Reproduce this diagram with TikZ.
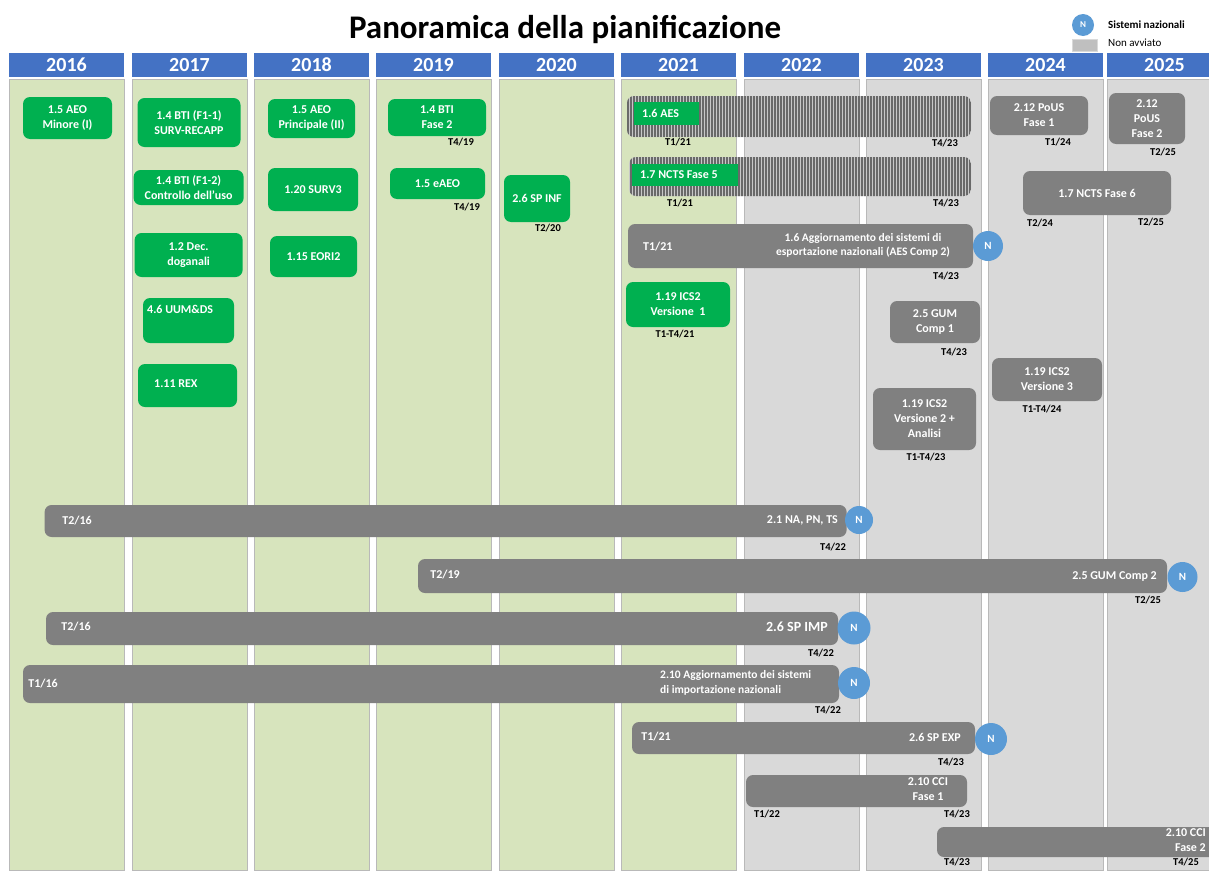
\documentclass[tikz,border=0pt]{standalone}
\usepackage{fontspec}
\setmainfont{Carlito}
\usetikzlibrary{patterns.meta}
\definecolor{headblue}{RGB}{68,114,196}
\definecolor{paleGreen}{RGB}{215,228,189}
\definecolor{paleGray}{RGB}{217,217,217}
\definecolor{boxGreen}{RGB}{0,176,80}
\definecolor{barGray}{RGB}{128,128,128}
\definecolor{natBlue}{RGB}{91,155,213}
\definecolor{hatchLight}{RGB}{200,200,200}
\definecolor{hatchDark}{RGB}{105,105,105}
\newcommand{\titlefont}{\fontsize{33}{39}\selectfont\bfseries}
\newcommand{\yearfont}{\fontsize{20}{22}\selectfont\bfseries}
\newcommand{\boxfont}{\fontsize{12}{15}\selectfont\bfseries}
\newcommand{\barfont}{\fontsize{12}{15}\selectfont\bfseries}
\newcommand{\datefont}{\fontsize{10.5}{12}\selectfont\bfseries}
\tikzset{yearhead/.style={fill=headblue, text=white, font=\yearfont, minimum width=115, minimum height=24, inner sep=0pt},
  greencol/.style={fill=paleGreen, draw=gray!55, line width=0.7pt, minimum width=115, minimum height=791, inner sep=0pt},
  graycol/.style={greencol, fill=paleGray},
  greenbox/.style={fill=boxGreen, text=white, font=\boxfont, rounded corners=7pt, align=center, inner sep=0pt},
  graybox/.style={fill=barGray, text=white, font=\barfont, rounded corners=7pt, align=center, inner sep=0pt},
  hatchbar/.style={rounded corners=7pt, preaction={fill=hatchLight}, pattern={Lines[angle=90, distance=1.5pt, line width=0.75pt]}, pattern color=hatchDark, inner sep=0pt},
  flatgreen/.style={fill=boxGreen, inner sep=0pt},
  bartext/.style={text=white, font=\barfont, inner sep=0pt},
  greentext/.style={text=white, font=\boxfont, inner sep=0pt},
  datelabel/.style={font=\datefont, inner sep=0pt},
  natdot/.style={circle, fill=natBlue, text=white, font=\fontsize{11}{12}\selectfont\bfseries, inner sep=0pt}}

\begin{document}
\begin{tikzpicture}[x=1pt, y=-1pt]
      \clip (0,0) rectangle (1209,870);
      \fill[white] (0,0) rectangle (1209,870);
      % title and legend
      \node [font=\titlefont] (title) at (565,29) {Panoramica della pianificazione};
      \node [natdot, minimum size=22, font=\fontsize{9}{10}\selectfont\bfseries] (legN) at (1083,25) {N};
      \node [fill=gray!50, draw=gray!30, minimum width=25, minimum height=12, inner sep=0pt] (legrect) at (1084.5,45.5) {};
      \node [anchor=west, font=\fontsize{11}{12}\selectfont\bfseries, inner sep=0pt] (legnat) at (1108,25) {Sistemi nazionali};
      \node [anchor=west, font=\fontsize{11}{12}\selectfont, inner sep=0pt] (legnon) at (1108,43) {Non avviato};
      % columns
      \node [greencol] (c2016) at (66.5,474.5) {};
      \node [greencol] (c2017) at (189.5,474.5) {};
      \node [greencol] (c2018) at (311.5,474.5) {};
      \node [greencol] (c2019) at (433.5,474.5) {};
      \node [greencol] (c2020) at (556.5,474.5) {};
      \node [greencol] (c2021) at (678.5,474.5) {};
      \node [graycol] (c2022) at (801.5,474.5) {};
      \node [graycol] (c2023) at (923.5,474.5) {};
      \node [graycol] (c2024) at (1045.5,474.5) {};
      \node [graycol] (c2025) at (1164.5,474.5) {};
      \node [yearhead] (y2016) at (66.5,65) {2016};
      \node [yearhead] (y2017) at (189.5,65) {2017};
      \node [yearhead] (y2018) at (311.5,65) {2018};
      \node [yearhead] (y2019) at (433.5,65) {2019};
      \node [yearhead] (y2020) at (556.5,65) {2020};
      \node [yearhead] (y2021) at (678.5,65) {2021};
      \node [yearhead] (y2022) at (801.5,65) {2022};
      \node [yearhead] (y2023) at (923.5,65) {2023};
      \node [yearhead] (y2024) at (1045.5,65) {2024};
      \node [yearhead] (y2025) at (1164.5,65) {2025};
      % completed projects
      \node [greenbox, minimum width=89, minimum height=42] (aeo1) at (67.5,118) {1.5 AEO\\Minore (I)};
      \node [greenbox, minimum width=103, minimum height=49] (bti11) at (189,122.5) {1.4 BTI (F1-1)\\SURV-RECAPP};
      \node [greenbox, minimum width=110, minimum height=35] (bti12) at (188.6,187.5) {1.4 BTI (F1-2)\\Controllo dell'uso};
      \node [greenbox, minimum width=108, minimum height=44] (decdog) at (188.6,255) {1.2 Dec.\\doganali};
      \node [greenbox, minimum width=91, minimum height=45] (uumds) at (188.5,320.5) {};
      \node [greentext, anchor=west] (uumdstxt) at (147,309) {4.6 UUM\&DS};
      \node [greenbox, minimum width=99, minimum height=43] (rex) at (187.5,385.5) {};
      \node [greentext, anchor=west] (rextxt) at (154,384) {1.11 REX};
      \node [greenbox, minimum width=87, minimum height=39] (aeo2) at (311.5,118.5) {1.5 AEO\\Principale (II)};
      \node [greenbox, minimum width=90, minimum height=43] (surv3) at (313,189.5) {1.20 SURV3};
      \node [greenbox, minimum width=87, minimum height=41] (eori2) at (313.5,256.5) {1.15 EORI2};
      \node [greenbox, minimum width=98, minimum height=37] (btif2) at (437,117.5) {1.4 BTI\\Fase 2};
      \node [greenbox, minimum width=95, minimum height=31] (eaeo) at (437.5,183.5) {1.5 eAEO};
      \node [greenbox, minimum width=66, minimum height=47] (spinf) at (537,198.5) {2.6 SP INF};
      \node [greenbox, minimum width=104, minimum height=45] (ics2v1) at (678,304.5) {1.19 ICS2\\Versione\ \ 1};
      \node [datelabel] (btif2end) at (461,142) {T4/19};
      \node [datelabel] (eaeoend) at (467,207) {T4/19};
      \node [datelabel] (spinfend) at (548,228) {T2/20};
      \node [datelabel] (ics2v1date) at (675,334) {T1-T4/21};
      % not started
      \node [hatchbar, minimum width=344, minimum height=41] (aes) at (799,116.5) {};
      \node [flatgreen, minimum width=65, minimum height=23] (aestag) at (666.5,113.5) {};
      \node [greentext, anchor=west] (aestxt) at (642,113.5) {1.6 AES};
      \node [datelabel] (aesstart) at (678,142) {T1/21};
      \node [datelabel] (aesend) at (945,143) {T4/23};
      \node [hatchbar, minimum width=342, minimum height=39] (ncts5) at (800,176.5) {};
      \node [flatgreen, minimum width=106, minimum height=22] (ncts5tag) at (685,175) {};
      \node [greentext, anchor=west] (ncts5txt) at (640,175) {1.7 NCTS Fase 5};
      \node [datelabel] (ncts5start) at (680,203) {T1/21};
      \node [datelabel] (ncts5end) at (946,203) {T4/23};
      % planned projects
      \node [graybox, minimum width=345, minimum height=44] (aescomp) at (800.5,246) {};
      \node [bartext, anchor=west] (aescompstart) at (643,247) {T1/21};
      \node [bartext, align=center, font=\fontsize{11.5}{14}\selectfont\bfseries] (aescomptxt) at (863,245) {1.6 Aggiornamento dei sistemi di\\esportazione nazionali (AES Comp 2)};
      \node [datelabel] (aescompend) at (946,276) {T4/23};
      \node [graybox, minimum width=98, minimum height=39] (pous1) at (1039,115.5) {2.12 PoUS\\Fase 1};
      \node [datelabel] (pous1date) at (1058,142) {T1/24};
      \node [graybox, minimum width=76, minimum height=51] (pous2) at (1147,118.5) {2.12\\PoUS\\Fase 2};
      \node [datelabel] (pous2date) at (1163,152) {T2/25};
      \node [graybox, minimum width=148, minimum height=44] (ncts6) at (1097,193) {1.7 NCTS Fase 6};
      \node [datelabel] (ncts6start) at (1040,223) {T2/24};
      \node [datelabel] (ncts6end) at (1151,222) {T2/25};
      \node [graybox, minimum width=90, minimum height=42] (gum1) at (935,322) {2.5 GUM\\Comp 1};
      \node [datelabel] (gum1date) at (954,352) {T4/23};
      \node [graybox, minimum width=103, minimum height=62] (ics2v2) at (924.5,419) {1.19 ICS2\\Versione 2 +\\Analisi};
      \node [datelabel] (ics2v2date) at (926,457) {T1-T4/23};
      \node [graybox, minimum width=110, minimum height=43] (ics2v3) at (1047,379.5) {1.19 ICS2\\Versione 3};
      \node [datelabel] (ics2v3date) at (1042,409) {T1-T4/24};
      % long bars
      \node [graybox, minimum width=802, minimum height=32] (napnts) at (445.6,521) {};
      \node [bartext] (napntsstart) at (77,521) {T2/16};
      \node [bartext, anchor=east] (napntstxt) at (838,520) {2.1 NA, PN, TS};
      \node [datelabel] (napntsend) at (833,547) {T4/22};
      \node [graybox, minimum width=749, minimum height=34] (gum2) at (792.5,576) {};
      \node [bartext] (gum2start) at (445,575) {T2/19};
      \node [bartext, anchor=east] (gum2txt) at (1157,576) {2.5 GUM Comp 2};
      \node [datelabel] (gum2end) at (1148,600) {T2/25};
      \node [graybox, minimum width=792, minimum height=33] (spimp) at (442,628.5) {};
      \node [bartext] (spimpstart) at (76,627) {T2/16};
      \node [bartext, anchor=east, font=\fontsize{14}{16}\selectfont\bfseries] (spimptxt) at (828,627) {2.6 SP IMP};
      \node [datelabel] (spimpend) at (821,653) {T4/22};
      \node [graybox, minimum width=816, minimum height=38] (impnaz) at (431,684) {};
      \node [bartext] (impnazstart) at (43,684) {T1/16};
      \node [bartext, anchor=west, align=left, font=\fontsize{11.5}{15}\selectfont\bfseries] (impnaztxt) at (660,682.5) {2.10 Aggiornamento dei sistemi\\di importazione nazionali};
      \node [datelabel] (impnazend) at (828,710) {T4/22};
      \node [graybox, minimum width=343, minimum height=32] (spexp) at (803.5,738) {};
      \node [bartext] (spexpstart) at (656,737) {T1/21};
      \node [bartext, anchor=east] (spexptxt) at (961,737) {2.6 SP EXP};
      \node [datelabel] (spexpend) at (951,762) {T4/23};
      \node [graybox, minimum width=221, minimum height=32] (cci1) at (856.5,791) {};
      \node [bartext, align=center] (cci1txt) at (928,789.5) {2.10 CCI\\Fase 1};
      \node [datelabel] (cci1start) at (767,814) {T1/22};
      \node [datelabel] (cci1end) at (957,814) {T4/23};
      \node [graybox, minimum width=293, minimum height=30] (cci2) at (1083.5,842) {};
      \node [bartext, anchor=east, align=right] (cci2txt) at (1206,840.5) {2.10 CCI\\Fase 2};
      \node [datelabel] (cci2start) at (957,862) {T4/23};
      \node [datelabel] (cci2end) at (1186,862) {T4/25};
      % national systems
      \node [natdot, minimum size=30] (aescompN) at (988,246) {N};
      \node [natdot, minimum size=28] (napntsN) at (859,520) {N};
      \node [natdot, minimum size=30] (gum2N) at (1182.5,577) {N};
      \node [natdot, minimum size=33] (spimpN) at (854,628) {N};
      \node [natdot, minimum size=32] (impnazN) at (854,683) {N};
      \node [natdot, minimum size=32] (spexpN) at (991,739) {N};
    \end{tikzpicture}
\end{document}
